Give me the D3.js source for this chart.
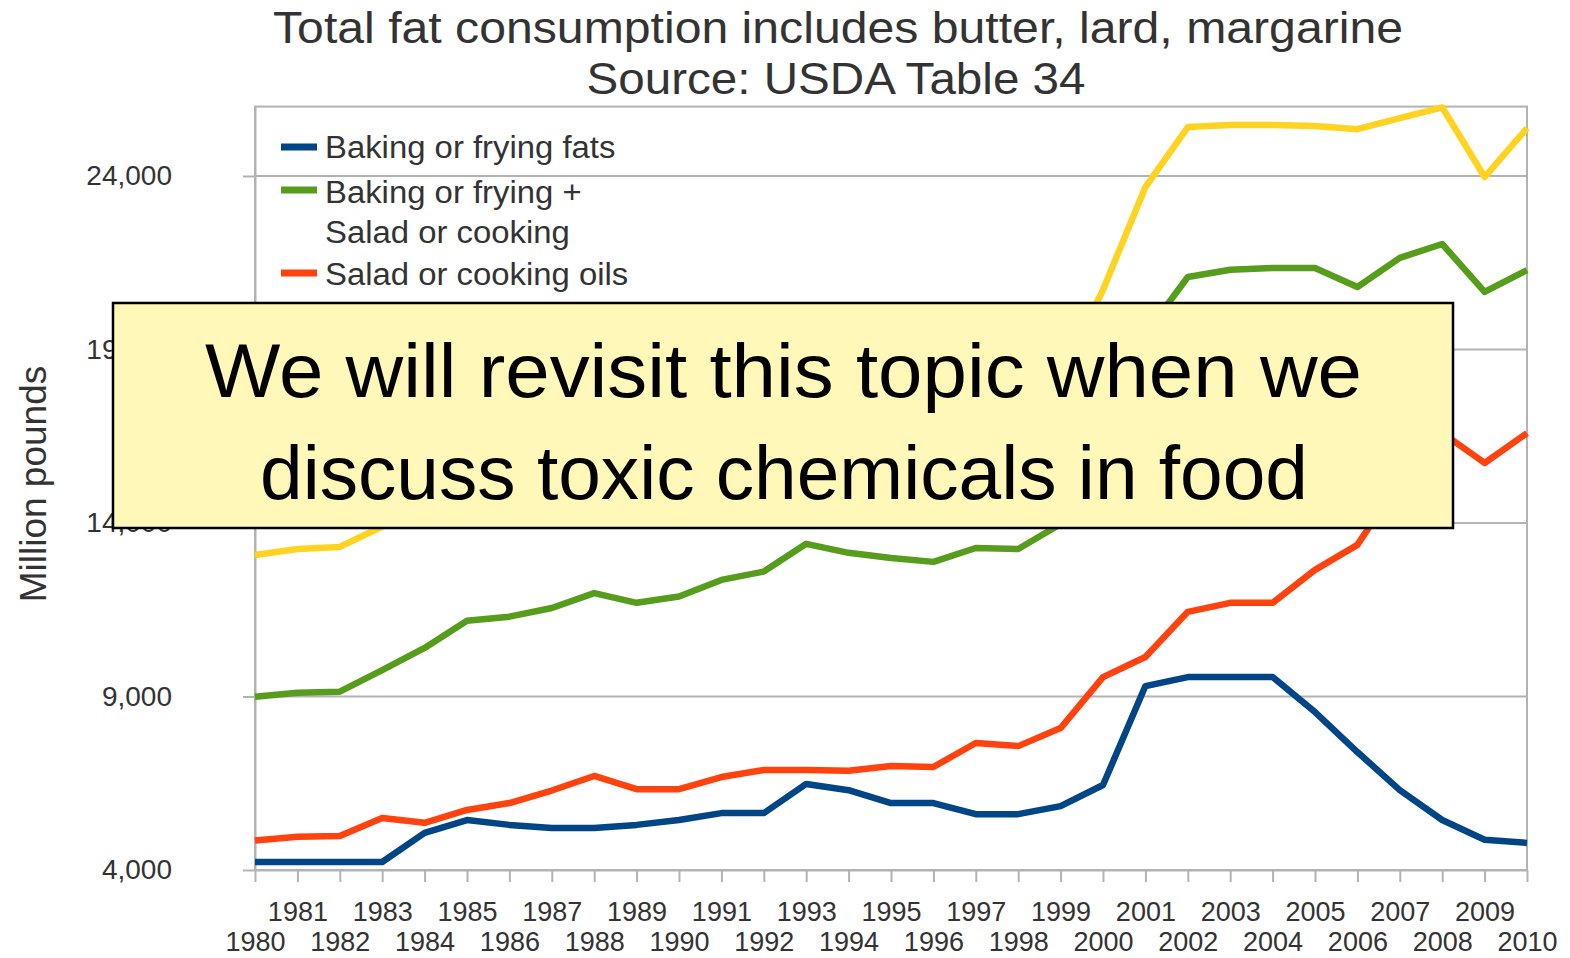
<!DOCTYPE html>
<html>
<head>
<meta charset="utf-8">
<script src="https://cdn.jsdelivr.net/npm/d3@7/dist/d3.min.js"></script>
<style>
  html, body { margin: 0; padding: 0; background: #ffffff; }
  svg { display: block; }
  text { font-family: "Liberation Sans", Arial, sans-serif; }
</style>
</head>
<body>
<svg id="chart" width="1570" height="958"></svg>
<script>
// USDA Table 34: fats and oils, million pounds, 1980-2010
const years = d3.range(1980, 2011);

const bakingFrying = [4230, 4230, 4230, 4230, 5070, 5440, 5300, 5210, 5210, 5300,
  5440, 5640, 5640, 6480, 6300, 5930, 5930, 5610, 5610, 5840,
  6450, 9300, 9560, 9560, 9560, 8550, 7400, 6300, 5440, 4870, 4780];

const saladCooking = [4850, 4960, 4980, 5500, 5360, 5730, 5930, 6290, 6710, 6330,
  6330, 6680, 6880, 6880, 6860, 7000, 6970, 7660, 7570, 8090,
  9560, 10140, 11440, 11700, 11700, 12650, 13370, 15220, 16600, 15730, 16590];

const bakingPlusSalad = [8990, 9110, 9140, 9760, 10400, 11180, 11300, 11550, 11980, 11700,
  11880, 12360, 12600, 13400, 13140, 12990, 12880, 13280, 13250, 13970,
  16010, 19440, 21090, 21300, 21350, 21350, 20800, 21640, 22040, 20660, 21290];

const totalFat = [13080, 13250, 13310, 13900, 14550, 15330, 15450, 15700, 16100, 15850,
  16000, 16500, 16750, 17500, 17300, 17150, 17050, 17450, 17450, 18200,
  20720, 23680, 25410, 25470, 25470, 25440, 25350, 25670, 25980, 23970, 25380];

const yTicks = [4000, 9000, 14000, 19000, 24000];

const seriesNames = ["Baking or frying fats", "Baking or frying +\nSalad or cooking", "Salad or cooking oils"];
const seriesColors = ["#004586", "#579d1c", "#ff420e", "#ffd320"];

const titleLines = ["Total fat consumption includes butter, lard, margarine", "Source: USDA Table 34"];
const yTitle = "Million pounds";
const noteLines = ["We will revisit this topic when we", "discuss toxic chemicals in food"];

const svg = d3.select("#chart");

const plot = { left: 255, right: 1527, top: 106.6, bottom: 870 };
const x = d3.scaleLinear().domain([1980, 2010]).range([plot.left, plot.right]);
const y = d3.scaleLinear().domain([4000, 26000]).range([plot.bottom, plot.top]);

const gridColor = "#b3b3b3";
const textColor = "#333333";

// horizontal grid lines
svg.append("g")
  .selectAll("line")
  .data(yTicks)
  .join("line")
  .attr("x1", plot.left).attr("x2", plot.right)
  .attr("y1", d => y(d)).attr("y2", d => y(d))
  .attr("stroke", gridColor).attr("stroke-width", 2);

// plot frame
svg.append("rect")
  .attr("x", plot.left).attr("y", plot.top)
  .attr("width", plot.right - plot.left).attr("height", plot.bottom - plot.top)
  .attr("fill", "none").attr("stroke", gridColor).attr("stroke-width", 2);

// y axis
const yAxis = svg.append("g")
  .attr("transform", `translate(${plot.left},0)`)
  .call(d3.axisLeft(y).tickValues(yTicks).tickSize(12).tickSizeOuter(0).tickFormat(d3.format(",")));
yAxis.select(".domain").attr("stroke", gridColor).attr("stroke-width", 2);
yAxis.selectAll(".tick line").attr("stroke", gridColor).attr("stroke-width", 2);
yAxis.selectAll(".tick text")
  .attr("x", -83)
  .attr("font-size", 28).attr("fill", textColor)
  .attr("font-family", "Liberation Sans, Arial, sans-serif");

// x axis: a tick per year, labels staggered on two rows
const xAxis = svg.append("g")
  .attr("transform", `translate(0,${plot.bottom})`)
  .call(d3.axisBottom(x).tickValues(years).tickSize(12).tickSizeOuter(0).tickFormat(d3.format("d")));
xAxis.select(".domain").attr("stroke", gridColor).attr("stroke-width", 2);
xAxis.selectAll(".tick line").attr("stroke", gridColor).attr("stroke-width", 2);
xAxis.selectAll(".tick text")
  .attr("dy", null)
  .attr("y", d => (d % 2 === 1) ? 51 : 81)
  .attr("font-size", 27).attr("fill", textColor)
  .attr("font-family", "Liberation Sans, Arial, sans-serif");

// y axis title
svg.append("text")
  .attr("transform", "translate(46,484) rotate(-90)")
  .attr("text-anchor", "middle")
  .attr("font-size", 37).attr("fill", textColor)
  .text(yTitle);

// series lines
const seriesData = [bakingFrying, bakingPlusSalad, saladCooking, totalFat];
const line = d3.line()
  .x((d, i) => x(years[i]))
  .y(d => y(d));

const drawOrder = [3, 1, 2, 0];
svg.append("g")
  .selectAll("path")
  .data(drawOrder)
  .join("path")
  .attr("d", k => line(seriesData[k]))
  .attr("fill", "none")
  .attr("stroke", k => seriesColors[k])
  .attr("stroke-width", 6.5)
  .attr("stroke-linejoin", "round")
  .attr("stroke-linecap", "butt");

// legend
const legendRows = [
  { marker: 147, lines: [158] },
  { marker: 190, lines: [203, 243] },
  { marker: 273, lines: [285] }
];
const legend = svg.append("g");
legendRows.forEach((row, i) => {
  legend.append("line")
    .attr("x1", 281).attr("x2", 317)
    .attr("y1", row.marker).attr("y2", row.marker)
    .attr("stroke", seriesColors[i]).attr("stroke-width", 7);
  seriesNames[i].split("\n").forEach((t, j) => {
    const txt = legend.append("text")
      .attr("x", 325).attr("y", row.lines[j])
      .attr("font-size", 31).attr("fill", textColor)
      .text(t);
    // legend labels run slightly wide
    const w = txt.node().getComputedTextLength();
    txt.attr("textLength", w * 1.06).attr("lengthAdjust", "spacingAndGlyphs");
  });
});

// chart title
svg.append("text")
  .attr("x", 838).attr("y", 43)
  .attr("text-anchor", "middle")
  .attr("font-size", 44).attr("fill", textColor)
  .attr("textLength", 1130).attr("lengthAdjust", "spacingAndGlyphs")
  .text(titleLines[0]);
svg.append("text")
  .attr("x", 836).attr("y", 94)
  .attr("text-anchor", "middle")
  .attr("font-size", 44).attr("fill", textColor)
  .attr("textLength", 499).attr("lengthAdjust", "spacingAndGlyphs")
  .text(titleLines[1]);

// call-out note over the chart
const note = svg.append("g");
note.append("rect")
  .attr("x", 113).attr("y", 303)
  .attr("width", 1340).attr("height", 225)
  .attr("fill", "#fff8b8").attr("stroke", "#000000").attr("stroke-width", 2.5);
const noteSpecs = [
  { y: 397, cx: 783.5, len: 1157 },
  { y: 499, cx: 784, len: 1048 }
];
noteLines.forEach((t, i) => {
  note.append("text")
    .attr("x", noteSpecs[i].cx).attr("y", noteSpecs[i].y)
    .attr("text-anchor", "middle")
    .attr("font-family", "Lato, 'Open Sans', sans-serif")
    .attr("font-size", 76).attr("fill", "#000000")
    .attr("textLength", noteSpecs[i].len).attr("lengthAdjust", "spacingAndGlyphs")
    .text(t);
});
</script>
</body>
</html>
